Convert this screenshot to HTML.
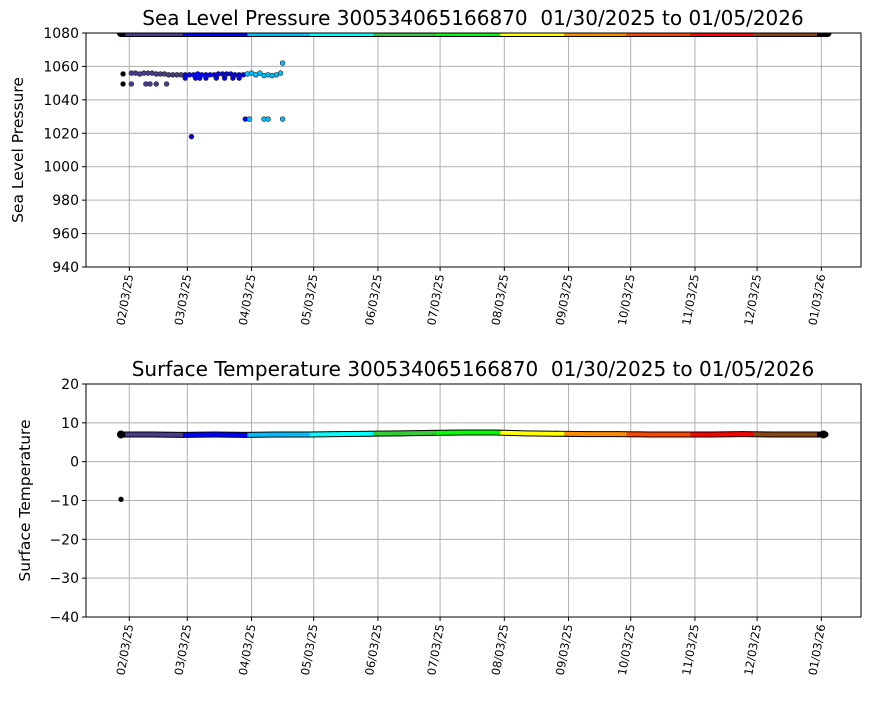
<!DOCTYPE html>
<html><head><meta charset="utf-8"><style>
body{margin:0;background:#fff;font-family:"Liberation Sans","DejaVu Sans",sans-serif}
svg text{font-family:"DejaVu Sans","Liberation Sans",sans-serif;white-space:pre}
</style></head><body>
<svg id="c" width="870" height="700" xmlns="http://www.w3.org/2000/svg">
<defs>
<clipPath id="clipP"><rect x="86" y="33" width="775" height="234"/></clipPath>
<clipPath id="clipT"><rect x="86" y="384" width="775" height="233"/></clipPath>
</defs>
</svg>
<script>
// Day 0 = 01/30/2025
const tickLabels=["02/03/25","03/03/25","04/03/25","05/03/25","06/03/25","07/03/25","08/03/25","09/03/25","10/03/25","11/03/25","12/03/25","01/03/26"];
const tickDays=[4,32,63,93,124,154,185,216,246,277,307,338];
const monthStarts=[0,2,30,61,91,122,152,183,214,244,275,305,336,341];
const monthColors=["#000000","#483d8b","#0000ff","#00bfff","#00ffff","#32cd32","#00ff00","#ffff00","#ff8c00","#ff4500","#ff0000","#8b4513","#000000"];
const pressDays=[1,1,5,7,9,11,13,15,17,19,21,23,25,27,29,31,33,35,37,39,41,43,45,47,49,51,53,55,57,59,61,63,65,67,69,71,73,75,77,78,5,12,14,17,22,31,34,36,38,41,46,50,54,57,60,62,69,71,78];
const pressVals=[1055.5,1049.5,1056,1056,1055.5,1056,1056,1056,1055.5,1055.5,1055.5,1055,1055,1055,1055,1055,1055,1055,1055.5,1055,1055,1055,1055,1055.5,1055.5,1055.5,1055.5,1055,1055,1055,1055.5,1056,1055,1056,1054.5,1055,1054.5,1055,1056,1062,1049.5,1049.5,1049.5,1049.5,1049.5,1053,1018,1053,1053,1053,1053,1053,1053,1053,1028.5,1028.5,1028.5,1028.5,1028.5];
const tempDays=[0,15,30,45,60,75,90,105,120,135,150,165,180,195,210,225,240,255,270,285,300,315,330,340];
const tempVals=[7,7,6.9,7,6.9,7,7,7.1,7.2,7.3,7.4,7.5,7.5,7.3,7.2,7.1,7.1,7.0,7.0,7.0,7.1,7.0,7.0,7.0];
const tempOutDays=[0];
const tempOutVals=[-9.7];
const topLineVal=[1080];

const S=document.getElementById('c');const NS='http://www.w3.org/2000/svg';
function el(t,a,p){const e=document.createElementNS(NS,t);for(const k in a)e.setAttribute(k,a[k]);(p||S).appendChild(e);return e;}
const X=d=>121+d*2.072;
function colorFor(d){let i=0;for(let k=0;k<monthStarts.length-1;k++)if(d>=monthStarts[k])i=k;return monthColors[i];}

function panel(top,bot,ymin,ymax,ystep,title,ylab,name,ylx){
  const Y=v=>bot-(v-ymin)/(ymax-ymin)*(bot-top);
  const g=el('g',{});
  for(let i=0;i<tickDays.length;i++){
    const x=X(tickDays[i]);
    el('line',{x1:x,x2:x,y1:top,y2:bot,stroke:'#b0b0b0','stroke-width':1},g);
    el('line',{x1:x,x2:x,y1:bot,y2:bot+4,stroke:'#000'},g);
    const t=el('text',{x:0,y:0,'font-size':11.5,'text-anchor':'end',transform:`translate(${x+4},${bot+8}) rotate(-80)`},g);
    t.textContent=tickLabels[i];
    
  }
  for(let v=ymin;v<=ymax;v+=ystep){
    const y=Y(v);
    el('line',{x1:86,x2:861,y1:y,y2:y,stroke:'#b0b0b0'},g);
    el('line',{x1:82,x2:86,y1:y,y2:y,stroke:'#000'},g);
    const t=el('text',{x:79,y:y+5,'font-size':14,'text-anchor':'end'},g);
    t.textContent=(v<0?'\u2212'+(-v):v);
    
  }
  const tt=el('text',{x:473,y:top-8,'font-size':20,'text-anchor':'middle'},g);tt.textContent=title;
  
  const yl=el('text',{x:0,y:0,'font-size':15.5,'text-anchor':'middle',transform:`translate(${ylx},${(top+bot)/2}) rotate(-90)`},g);yl.textContent=ylab;
  
  return {Y,g};
}
function interp(d,v,x){for(let i=0;i<d.length-1;i++)if(x>=d[i]&&x<=d[i+1])return v[i]+(v[i+1]-v[i])*(x-d[i])/(d[i+1]-d[i]);return v[v.length-1];}
function segLine(g,Y,days,vals,clip,wOut,wIn,endR){
  const cg=el('g',{'clip-path':`url(#${clip})`},g);
  for(let i=0;i<days.length-1;i++)
    el('line',{x1:X(days[i]),x2:X(days[i+1]),y1:Y(vals[i]),y2:Y(vals[i+1]),stroke:'#000','stroke-width':wOut,'stroke-linecap':'round'},cg);
  for(let m=1;m<monthStarts.length-1;m++){
    const a=monthStarts[m],b=monthStarts[m+1];
    const pts=[];
    for(let i=0;i<days.length;i++){if(days[i]>a&&days[i]<b)pts.push([X(days[i]),Y(vals[i])]);}
    pts.unshift([X(a),Y(interp(days,vals,a))]);pts.push([X(b),Y(interp(days,vals,b))]);
    const l=el('polyline',{points:pts.map(p=>p.join(',')).join(' '),fill:'none',stroke:monthColors[m],'stroke-width':wIn},cg);
    
  }
  el('circle',{cx:X(days[0]),cy:Y(vals[0]),r:endR,fill:'#000'},cg);
  el('circle',{cx:X(days[days.length-1])-2,cy:Y(vals[vals.length-1]),r:endR,fill:'#000'},cg);
}
function dots(g,Y,days,vals){
  for(let i=0;i<days.length;i++){
    const c=el('circle',{cx:X(days[i]),cy:Y(vals[i]),r:2.4,fill:colorFor(days[i]),stroke:'#222','stroke-width':0.6},g);
    
  }
}
function frame(top,bot){el('rect',{x:86,y:top,width:775,height:bot-top,fill:'none',stroke:'#000','stroke-width':1});}

const P=panel(33,267,940,1080,20,'Sea Level Pressure 300534065166870  01/30/2025 to 01/05/2026','Sea Level Pressure','pressure-panel',23);
segLine(P.g,P.Y,[0,341],[topLineVal[0],topLineVal[0]],'clipP',8,6,4);
dots(P.g,P.Y,pressDays,pressVals);
frame(33,267);

const T=panel(384,617,-40,20,10,'Surface Temperature 300534065166870  01/30/2025 to 01/05/2026','Surface Temperature','temperature-panel',30);
segLine(T.g,T.Y,tempDays,tempVals,'clipT',6,4,4);
dots(T.g,T.Y,tempOutDays,tempOutVals);
frame(384,617);
</script>
</body></html>
